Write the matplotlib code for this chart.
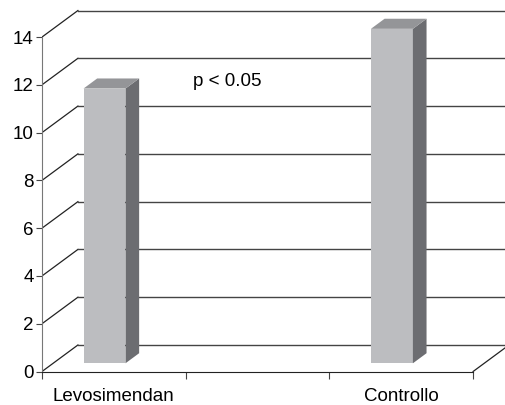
import numpy as np
import matplotlib.pyplot as plt

# data
categories = ["Levosimendan", "", "Controllo"]
values = [11.5, np.nan, 14.0]
yticks = [0, 2, 4, 6, 8, 10, 12, 14]
note = "p < 0.05"

plt.rcParams['font.family'] = ['Liberation Sans', 'DejaVu Sans']

# oblique "3D" look: offset of the back wall in data units
DX, DY = 0.25, 1.11
z0, z1 = 0.31, 0.69     # depth range of the bars
bar_w = 0.292
bar_shift = -0.065      # front face centre relative to category centre

front_c = '#bcbdc0'
side_c = '#6c6d71'
top_c = '#949598'
grid_c = '#444444'

fig = plt.figure(figsize=(5.05, 4.05), dpi=100)
ax = fig.add_axes([42/505, 33.5/405, 463/505, 371.5/405])
ax.set_xlim(0, 463/143.7)
ax.set_ylim(0, 371.5/23.89)

# back wall gridlines + left wall diagonals
for v in yticks:
    ax.plot([0, DX], [v, v + DY], color='#222222', lw=0.9, zorder=1)
    ax.plot([DX, 4], [v + DY, v + DY], color=grid_c, lw=1.0, zorder=1)
# right edge of floor
ax.plot([len(categories), len(categories) + DX], [0, DY], color='#222222', lw=0.9, zorder=1)

# bars
ddx, ddy = (z1 - z0) * DX, (z1 - z0) * DY
for i, v in enumerate(values):
    if np.isnan(v):
        continue
    c = i + 0.5 + bar_shift
    xl, xr = c - bar_w / 2, c + bar_w / 2
    yb, yt = z0 * DY, v + z0 * DY
    ax.fill([xl, xr, xr, xl], [yb, yb, yt, yt], color=front_c, lw=0, zorder=3)
    ax.fill([xr, xr + ddx, xr + ddx, xr], [yb, yb + ddy, yt + ddy, yt], color=side_c, lw=0, zorder=3)
    ax.fill([xl, xr, xr + ddx, xl + ddx], [yt, yt, yt + ddy, yt + ddy], color=top_c, lw=0, zorder=3)

ax.text(1.29, 12.12, note, ha='center', va='center', fontsize=13.5)

# axes
for s in ['top', 'right']:
    ax.spines[s].set_visible(False)
ax.spines['left'].set_bounds(0, 14)
ax.spines['left'].set_color('#777777')
ax.spines['bottom'].set_bounds(0, len(categories))
ax.spines['bottom'].set_color('#222222')
ax.set_yticks(yticks)
ax.tick_params(axis='y', length=4, width=0.8, pad=2, labelsize=13.5, color='#444444')
ax.set_xticks(np.arange(len(categories) + 1))
ax.set_xticklabels([])
ax.set_xticks(np.arange(len(categories)) + 0.5, minor=True)
ax.set_xticklabels(categories, minor=True, fontsize=13.5)
ax.tick_params(axis='x', which='major', length=5, width=0.8, color='#444444')
ax.tick_params(axis='x', which='minor', length=0, pad=12)
ax.set_facecolor('none')

plt.savefig('out.png', dpi=100)
plt.close()
